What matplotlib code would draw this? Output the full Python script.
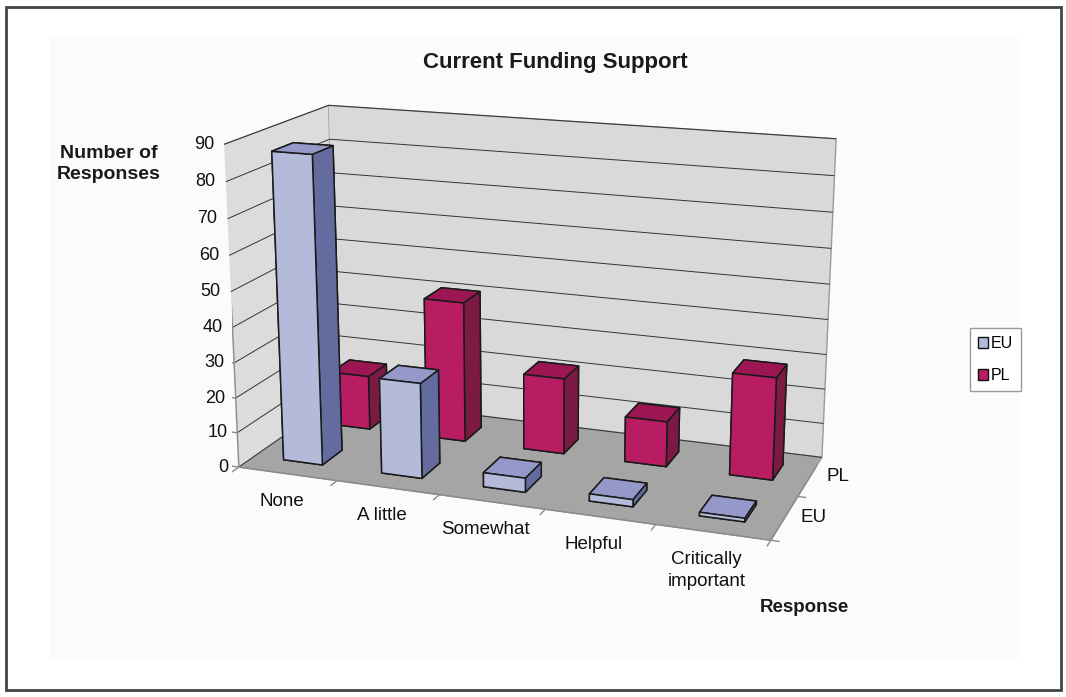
import matplotlib
matplotlib.use('Agg')
import matplotlib.pyplot as plt
import numpy as np
from matplotlib.patches import Rectangle, Patch
from matplotlib.transforms import offset_copy

plt.rcParams['font.family'] = ['Liberation Sans', 'DejaVu Sans']

# data
categories = ['None', 'A little', 'Somewhat', 'Helpful', 'Critically\nimportant']
series = ['EU', 'PL']
eu_values = [87, 27, 4, 2, 1]
pl_values = [16, 41, 22, 13, 29]
z_ticks = [0, 10, 20, 30, 40, 50, 60, 70, 80, 90]

# front / top / side colours of the columns
eu_colors = ('#b4bad9', '#9599c9', '#646b9f')
pl_colors = ('#b81d64', '#9b1653', '#7b1b44')

fig = plt.figure(figsize=(10.66, 6.97), dpi=100)
fig.patches.append(Rectangle((0.006, 0.01), 0.989, 0.98, transform=fig.transFigure,
                             fill=False, ec='#444444', lw=2))
fig.patches.append(Rectangle((0.047, 0.055), 0.91, 0.89, transform=fig.transFigure,
                             fc='#fbfbfb', ec='none', zorder=-1))

ax = fig.add_axes([0.152, 0.13, 0.68, 0.84], projection='3d', proj_type='persp', focal_length=0.6)
ax.view_init(elev=16, azim=-70)
ax.set_box_aspect((1.77, 0.74, 1.07), zoom=1.135)
ax.patch.set_alpha(0)

xs, ys, hs, face_cols = [], [], [], []
for j, (vals, cols) in enumerate([(eu_values, eu_colors), (pl_values, pl_colors)]):
    front, top, side = cols
    for i, v in enumerate(vals):
        xs.append(i + 0.3)
        ys.append(j + 0.3)
        hs.append(v)
        # bottom, top, front(-y), back(+y), left(-x), right(+x)
        face_cols += [top, top, front, front, side, side]
ax.bar3d(xs, ys, np.zeros(len(xs)), 0.4, 0.4, hs, color=face_cols, shade=False,
         edgecolor='#1a1a1a', linewidth=1.1)

nx, ny = len(categories), len(series)
ax.set_xlim(0, nx)
ax.set_ylim(0, ny)
ax.set_zlim(0, 90)

# walls and floor
ax.xaxis.set_pane_color('#dcdcdc')
ax.yaxis.set_pane_color('#d9d9d9')
ax.zaxis.set_pane_color('#a5a5a5')
for a in (ax.xaxis, ax.yaxis, ax.zaxis):
    a.pane.set_edgecolor('#9a9a9a')
    a.line.set_color((1, 1, 1, 0))
    a._axinfo['tick']['inward_factor'] = 0
    a._axinfo['tick']['outward_factor'] = 0
    a.label.set_visible(False)
    a.offsetText.set_visible(False)
ax.xaxis._axinfo['grid']['color'] = (1, 1, 1, 0)
ax.yaxis._axinfo['grid']['color'] = (1, 1, 1, 0)
ax.zaxis._axinfo['grid']['color'] = '#333333'
ax.zaxis._axinfo['grid']['linewidth'] = 0.7

ax.set_xticks([])
ax.set_yticks([])
ax.set_zticks(z_ticks)
ax.set_zticklabels([])

# axis lines and tick marks
axis_col = '#8a8a8a'
ax.plot([0, 0], [0, 0], [0, 90], color=axis_col, lw=1)
ax.plot([0, nx], [0, 0], [0, 0], color=axis_col, lw=1)
ax.plot([nx, nx], [0, ny], [0, 0], color=axis_col, lw=1)
left_off = offset_copy(ax.transData, fig=fig, x=-10, units='dots')
for t in z_ticks:
    ax.plot([-0.07, 0], [0, 0], [t, t], color=axis_col, lw=1)
    ax.text(0, 0, t, str(t), transform=left_off, ha='right', va='center',
            fontsize=13, color='#111111')
for i in range(nx + 1):
    ax.plot([i, i], [-0.12, 0], [0, 0], color=axis_col, lw=1)
for j in range(ny + 1):
    ax.plot([nx, nx + 0.07], [j, j], [0, 0], color=axis_col, lw=1)

down_off = offset_copy(ax.transData, fig=fig, x=-6, y=-19, units='dots')
for i, c in enumerate(categories):
    ax.text(i + 0.5, 0, 0, c, transform=down_off, ha='center', va='top',
            fontsize=13.5, linespacing=1.4, color='#111111')
right_off = offset_copy(ax.transData, fig=fig, x=16, units='dots')
for j, s in enumerate(series):
    ax.text(nx, j + 0.5, 0, s, transform=right_off, ha='left', va='center',
            fontsize=13.5, color='#111111')

fig.text(0.521, 0.911, 'Current Funding Support', ha='center', va='center',
         fontsize=16, fontweight='bold', color='#1a1a1a')
fig.text(0.102, 0.765, 'Number of\nResponses', ha='center', va='center',
         fontsize=14, fontweight='bold', linespacing=1.35, color='#1a1a1a')
fig.text(0.755, 0.129, 'Response', ha='center', va='center',
         fontsize=13.5, fontweight='bold', color='#1a1a1a')

handles = [Patch(facecolor=eu_colors[0], edgecolor='#111111', label='EU'),
           Patch(facecolor=pl_colors[0], edgecolor='#111111', label='PL')]
fig.legend(handles=handles, loc='center left', bbox_to_anchor=(0.902, 0.484),
           fancybox=False, edgecolor='#999999', fontsize=11.5, handlelength=0.65,
           handleheight=0.65, handletextpad=0.2, borderpad=0.5, labelspacing=1.1,
           framealpha=1)

fig.savefig('out.png', dpi=100)
